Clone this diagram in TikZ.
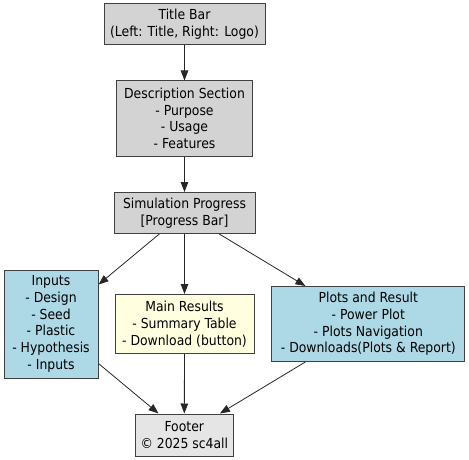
\documentclass[tikz,border=0pt]{standalone}
\usepackage{fontspec}
\setmainfont{DejaVu Sans Condensed}
\usetikzlibrary{arrows.meta}
\newlength{\du}
\setlength{\du}{1pt}
\definecolor{boxgray}{HTML}{D3D3D3}
\definecolor{footgray}{HTML}{E5E5E5}
\definecolor{boxblue}{HTML}{ADD8E6}
\definecolor{boxyellow}{HTML}{FFFFE0}
\tikzset{
  box/.style={draw=black!75, line width=1\du, align=center, inner sep=0pt,
    font=\fontsize{13.8}{16.7}\selectfont},
  flow/.style={-{Triangle[length=10pt,width=7.5pt]}, line width=0.8pt, draw=black!85}
}
\begin{document}
\begin{tikzpicture}
\pgftransformyscale{-1.000000}
\useasboundingbox (0\du,0\du) rectangle (469\du,460\du);
% boxes
\node[box, fill=boxgray, minimum width=161\du, minimum height=41\du] (title) at (184.5\du,24.5\du){Title Bar\\(Left: Title, Right: Logo)};
\node[box, fill=boxgray, minimum width=136\du, minimum height=75\du] (desc) at (184.5\du,118.5\du){Description Section\\- Purpose\\- Usage\\- Features};
\node[box, fill=boxgray, minimum width=141\du, minimum height=41\du] (sim) at (184.5\du,213\du){Simulation Progress\\{[Progress Bar]}};
\node[box, fill=boxblue, minimum width=94\du, minimum height=108\du] (inputs) at (51\du,324\du){Inputs\\- Design\\- Seed\\- Plastic\\- Hypothesis\\- Inputs};
\node[box, fill=boxyellow, minimum width=139\du, minimum height=59\du] (main) at (184.5\du,324\du){Main Results\\- Summary Table\\- Download (button)};
\node[box, fill=boxblue, minimum width=193\du, minimum height=75\du] (plots) at (368.3\du,324\du){Plots and Result\\- Power Plot\\- Plots Navigation\\- Downloads(Plots \& Report)};
\node[box, fill=footgray, minimum width=98\du, minimum height=42\du] (footer) at (184.3\du,435\du){Footer\\© 2025 sc4all};
% connectors
\draw[flow] (title) -- (desc);
\draw[flow] (desc) -- (sim);
\draw[flow] (sim) -- (inputs);
\draw[flow] (sim) -- (main);
\draw[flow] (sim) -- (plots);
\draw[flow] (inputs) -- (footer);
\draw[flow] (main) -- (footer);
\draw[flow] (plots) -- (footer);
\end{tikzpicture}
\end{document}
